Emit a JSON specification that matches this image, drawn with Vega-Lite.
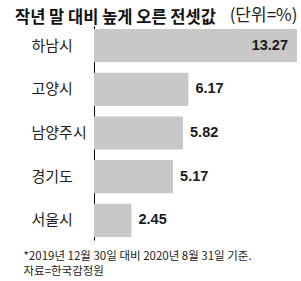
{
  "$schema": "https://vega.github.io/schema/vega-lite/v6.json",
  "width": 301,
  "height": 281,
  "autosize": {"type": "fit", "contains": "padding"},
  "padding": {"left": 15, "right": 4, "top": 6, "bottom": 4},
  "background": "white",
  "config": {
    "view": {"stroke": null},
    "font": "Noto Sans CJK KR",
    "axis": {"grid": false}
  },
  "title": {
    "text": "작년 말 대비 높게 오른 전셋값",
    "anchor": "start",
    "frame": "bounds",
    "fontSize": 16.5,
    "fontWeight": "bold",
    "color": "#111111",
    "dx": -8,
    "offset": -20
  },
  "data": {
    "values": [
      {"region": "하남시", "value": 13.27},
      {"region": "고양시", "value": 6.17},
      {"region": "남양주시", "value": 5.82},
      {"region": "경기도", "value": 5.17},
      {"region": "서울시", "value": 2.45}
    ]
  },
  "encoding": {
    "y": {
      "field": "region",
      "type": "nominal",
      "sort": null,
      "scale": {"paddingInner": 0.24, "paddingOuter": 0.07},
      "axis": {
        "title": null,
        "domain": true,
        "domainColor": "#000000",
        "domainWidth": 1,
        "ticks": false,
        "tickSize": 0,
        "labelAlign": "left",
        "labelPadding": 63,
        "labelFontSize": 15,
        "labelColor": "#222222"
      }
    }
  },
  "layer": [
    {
      "mark": {"type": "bar", "color": "#c8c8c8"},
      "encoding": {
        "x": {
          "field": "value",
          "type": "quantitative",
          "scale": {"domain": [0, 13.27], "nice": false},
          "axis": {
            "orient": "top",
            "domain": false,
            "ticks": false,
            "labels": false,
            "title": "(단위=%)",
            "titleAnchor": "end",
            "titleFontSize": 17,
            "titleFontWeight": "normal",
            "titleColor": "#222222",
            "titlePadding": 2
          }
        }
      }
    },
    {
      "transform": [{"filter": "datum.value < 10"}],
      "mark": {"type": "text", "align": "left", "dx": 7, "font": "Liberation Sans", "fontSize": 14.5, "fontWeight": "bold", "color": "#1a1a1a"},
      "encoding": {
        "x": {
          "field": "value",
          "type": "quantitative",
          "axis": {
            "orient": "bottom",
            "domain": false,
            "ticks": false,
            "labels": false,
            "title": ["*2019년 12월 30일 대비 2020년 8월 31일 기준.", "자료=한국감정원"],
            "titleAnchor": "start",
            "titleAlign": "left",
            "titleX": -71,
            "titleFontSize": 11.5,
            "titleFontWeight": "normal",
            "titleLineHeight": 15.5,
            "titleColor": "#222222",
            "titlePadding": 10
          }
        },
        "text": {"field": "value", "type": "quantitative", "format": ".2f"}
      }
    },
    {
      "transform": [{"filter": "datum.value >= 10"}],
      "mark": {"type": "text", "align": "right", "dx": -9, "font": "Liberation Sans", "fontSize": 14.5, "fontWeight": "bold", "color": "#1a1a1a"},
      "encoding": {
        "x": {"field": "value", "type": "quantitative", "axis": null},
        "text": {"field": "value", "type": "quantitative", "format": ".2f"}
      }
    }
  ],
  "resolve": {"axis": {"x": "independent"}}
}
